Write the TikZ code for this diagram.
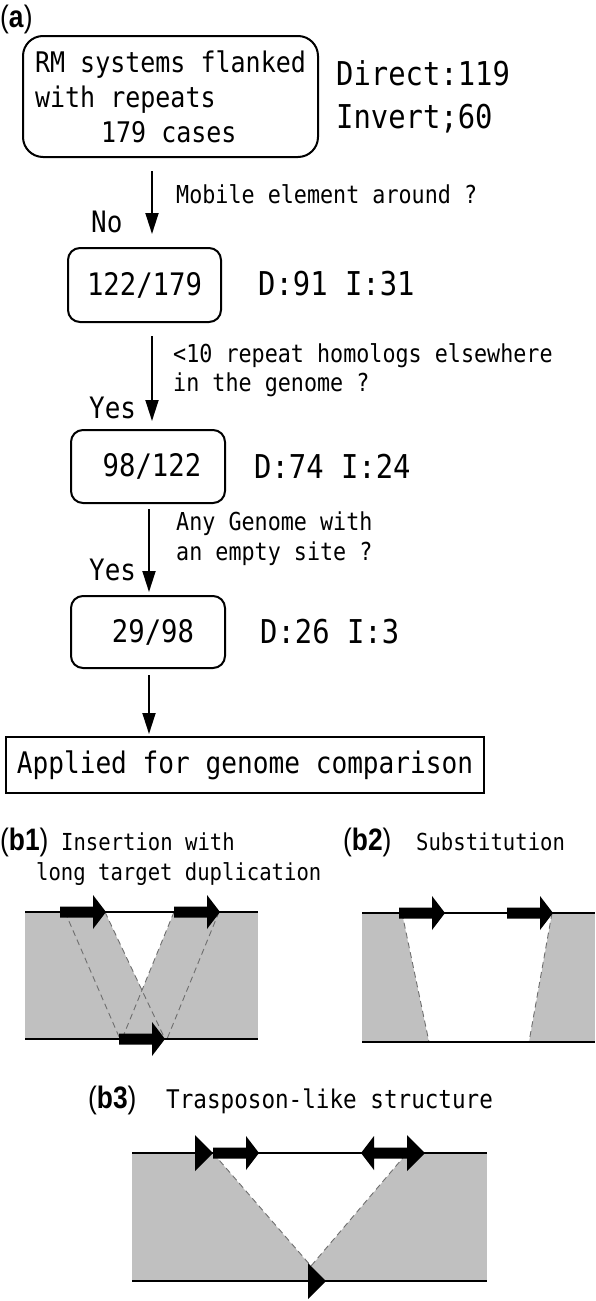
\documentclass[tikz,border=0pt]{standalone}
\usepackage{fontspec}
\usepackage{tikz}
\usetikzlibrary{arrows.meta}
\newfontfamily\gothic{DejaVu Sans Mono}[FakeStretch=0.88]
\newfontfamily\labfont{Liberation Sans}[FakeStretch=0.85]

\begin{document}
\begin{tikzpicture}[x=1pt,y=1pt,yscale=-1,xscale=1,
  rbox/.style={draw, line width=2pt, rounded corners=12pt, inner sep=0pt},
  sqbox/.style={draw, line width=2pt, inner sep=0pt},
  flow/.style={line width=1.8pt, -{Triangle[length=21pt,width=13pt]}},
  tally/.style={anchor=base west, inner sep=0pt, font=\gothic\fontsize{32.8}{40}\selectfont},
  note/.style={anchor=base west, inner sep=0pt, font=\gothic\fontsize{24.7}{30}\selectfont},
  ans/.style={anchor=base west, inner sep=0pt, font=\gothic\fontsize{29.5}{30}\selectfont},
  panel/.style={anchor=base west, inner sep=0pt, font=\labfont\fontsize{31}{31}\selectfont},
  gbg/.style={fill={rgb, 255:red, 192; green, 192; blue, 192}},
  gap/.style={draw={rgb, 255:red, 110; green, 110; blue, 110}, line width=0.9pt, dash pattern=on 6pt off 4pt},
  chrom/.style={draw, line width=2pt},
  pics/gene/.style={code={\fill (0,-5.5) -- (33,-5.5) -- (33,-17) -- (46,0) -- (33,17) -- (33,5.5) -- (0,5.5) -- cycle;}}]
\useasboundingbox (0,0) rectangle (595,1301);

% Text Node
\node[panel] (lab-a) at (0,27) {(\textbf{a})};

%Shape: Rounded Rect
\node[rbox, rounded corners=20pt, minimum width=295pt, minimum height=121pt, align=left,
  font=\gothic\fontsize{28.4}{35}\selectfont] (start) at (170.5,96.5)
  {RM systems flanked\\with repeats\\\hspace*{66pt}179 cases};
% Text Node
\node[tally] (dirct) at (336,85) {Direct:119};
\node[tally] (invrt) at (336,128) {Invert;60};

%Shape: Rounded Rect
\node[rbox, minimum width=153pt, minimum height=74pt, font=\gothic\fontsize{31}{31}\selectfont] (cnt1) at (144.5,285) {122/179};
\node[tally] (dv1) at (258,295) {D:91 I:31};
%Shape: Rounded Rect
\node[rbox, minimum width=154pt, minimum height=73pt, font=\gothic\fontsize{31}{31}\selectfont] (cnt2) at (148,466.5) {\hspace*{8pt}98/122};
\node[tally] (dv2) at (254,478) {D:74 I:24};
%Shape: Rounded Rect
\node[rbox, minimum width=154pt, minimum height=72pt, font=\gothic\fontsize{31}{31}\selectfont] (cnt3) at (148,632) {\hspace*{10pt}29/98};
\node[tally] (dv3) at (260,643) {D:26 I:3};
%Shape: Rectangle
\node[sqbox, minimum width=478pt, minimum height=56pt, font=\gothic\fontsize{29.7}{30}\selectfont] (final) at (245,765) {Applied for genome comparison};

% Text Node
\node[note] (q1) at (176,203) {Mobile element around ?};
\node[ans] (no) at (91,232) {No};
\node[note] (q2a) at (173,362) {<10 repeat homologs elsewhere};
\node[note] (q2b) at (173,391) {in the genome ?};
\node[ans] (yes1) at (89,418) {Yes};
\node[note] (q3a) at (176,530) {Any Genome with};
\node[note] (q3b) at (176,560) {an empty site ?};
\node[ans] (yes2) at (89,580) {Yes};

%Straight Lines
\coordinate (colA) at (152,0);
\coordinate (colB) at (149,0);
\draw[flow, shorten <=13pt, shorten >=13pt] (start.south -| colA) -- (cnt1.north -| colA);
\draw[flow, shorten <=13pt, shorten >=8pt] (cnt1.south -| colA) -- (cnt2.north -| colA);
\draw[flow, shorten <=5pt, shorten >=3pt] (cnt2.south -| colB) -- (cnt3.north -| colB);
\draw[flow, shorten <=6pt, shorten >=2pt] (cnt3.south -| colB) -- (final.north -| colB);

% Text Node
\node[panel] (lab-b1) at (0,850) {(\textbf{b1})};
\node[note, font=\gothic\fontsize{23.4}{30}\selectfont] (t-b1a) at (61,850) {Insertion with};
\node[note, font=\gothic\fontsize{23.4}{30}\selectfont] (t-b1b) at (36,880) {long target duplication};
\node[panel] (lab-b2) at (343,850) {(\textbf{b2})};
\node[note, font=\gothic\fontsize{23.4}{30}\selectfont] (t-b2) at (416,850) {Substitution};
\node[panel] (lab-b3) at (88,1108) {(\textbf{b3})};
\node[note, font=\gothic\fontsize{25.7}{30}\selectfont] (t-b3) at (166,1108) {Trasposon-like structure};

%Shape: b1 insertion
\fill[gbg] (25,912) rectangle (258,1039);
\fill[white] (105,912) -- (174,912) -- (142,990) -- cycle;
\draw[gap] (65,912) -- (120,1039);
\draw[gap] (105,912) -- (165,1039);
\draw[gap] (174,912) -- (122,1039);
\draw[gap] (219,912) -- (167,1039);
\draw[chrom] (25,912) -- (258,912);
\draw[chrom] (25,1039) -- (258,1039);
\pic at (60,912) {gene};
\pic at (174,912) {gene};
\pic at (119,1039) {gene};

%Shape: b2 substitution
\fill[gbg] (362,913) rectangle (595,1042);
\fill[white] (402,913) -- (552,913) -- (529,1042) -- (429,1042) -- cycle;
\draw[gap] (402,913) -- (429,1042);
\draw[gap] (552,913) -- (529,1042);
\draw[chrom] (362,913) -- (595,913);
\draw[chrom] (362,1042) -- (595,1042);
\pic at (399,913) {gene};
\pic at (507,913) {gene};

%Shape: b3 transposon-like
\fill[gbg] (132,1153) rectangle (487,1281);
\fill[white] (213,1153) -- (407,1153) -- (311,1266) -- cycle;
\draw[gap] (213,1153) -- (311,1266) -- (407,1153);
\draw[chrom] (132,1153) -- (487,1153);
\draw[chrom] (132,1281) -- (487,1281);
\pic at (213,1153) {gene};
\pic[rotate=180] at (407,1153) {gene};
\fill (195,1135) -- (213,1153) -- (195,1171) -- cycle;
\fill (407,1135) -- (425,1153) -- (407,1171) -- cycle;
\fill (308,1263) -- (326,1281) -- (308,1299) -- cycle;

\end{tikzpicture}
\end{document}
